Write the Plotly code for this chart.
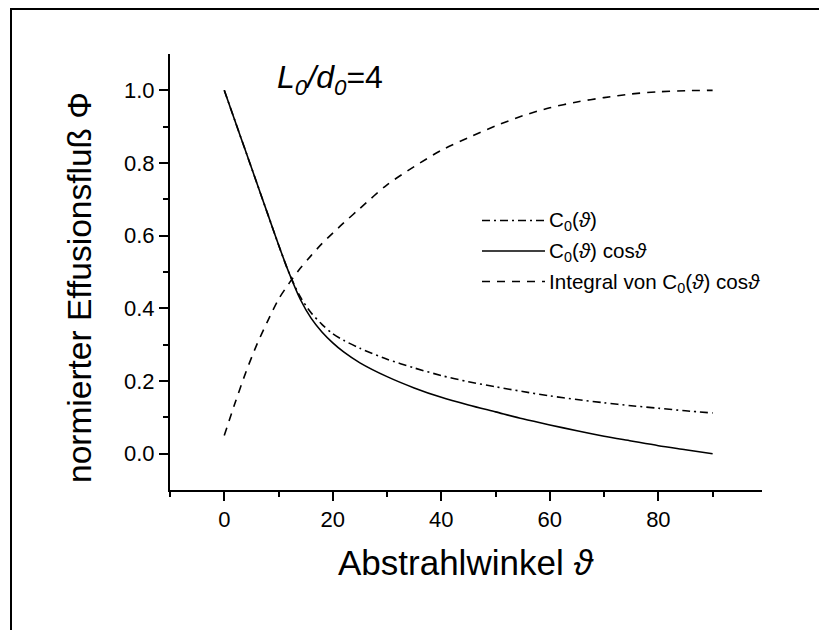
import plotly.graph_objects as go

# ---- data ----
theta = [0, 2, 4, 6, 8, 10, 12, 14, 16, 18, 20, 22, 25, 30, 35, 40, 45, 50, 55, 60, 65, 70, 75, 80, 85, 90]
c0 = [1.0, 0.915, 0.83, 0.745, 0.66, 0.575, 0.495, 0.432, 0.388, 0.356, 0.33, 0.312, 0.29, 0.26, 0.236, 0.215,
      0.198, 0.184, 0.171, 0.159, 0.149, 0.14, 0.132, 0.125, 0.118, 0.112]
c0_cos = [1.0, 0.915, 0.83, 0.745, 0.66, 0.575, 0.495, 0.425, 0.373, 0.335, 0.305, 0.28, 0.25, 0.212, 0.181,
          0.155, 0.134, 0.115, 0.096, 0.079, 0.063, 0.048, 0.035, 0.022, 0.011, 0.0]
integral = [0.05, 0.14, 0.225, 0.30, 0.365, 0.425, 0.47, 0.51, 0.545, 0.578, 0.607, 0.635, 0.675, 0.74, 0.79,
            0.835, 0.87, 0.902, 0.93, 0.952, 0.968, 0.98, 0.99, 0.996, 0.999, 1.0]

legend_labels = ["C<sub>0</sub>(<i>ϑ</i>)",
                 "C<sub>0</sub>(<i>ϑ</i>) cos<i>ϑ</i>",
                 "Integral von C<sub>0</sub>(<i>ϑ</i>) cos<i>ϑ</i>"]
x_title = "Abstrahlwinkel <i>ϑ</i>"
y_title = "normierter Effusionsfluß Φ"
x_ticks = [0, 20, 40, 60, 80]
y_ticks = [0.0, 0.2, 0.4, 0.6, 0.8, 1.0]

FONT = "Liberation Sans, Arial, sans-serif"
DASHDOT = "8px,4px,2px,4px"
DASH = "8px,7px"
styles = [dict(color="black", width=1.6, dash=DASHDOT),
          dict(color="black", width=1.6, dash="solid"),
          dict(color="black", width=1.6, dash=DASH)]

fig = go.Figure()
for ys, st, name in zip([c0, c0_cos, integral], styles, legend_labels):
    fig.add_trace(go.Scatter(x=theta, y=ys, mode="lines", line=dict(**st, shape="spline", smoothing=0.8),
                             name=name, showlegend=False))

# page offset caused by the default body margin of the html page
OFF = 8
FW, FH = 827 - OFF, 630 - OFF
# plot area in page pixels: x 170..762, y 54..490
L, R, T, B = 170, 762, 54, 490
W, H = R - L, B - T
def px(x):
    return (x - L) / W
def py(y):
    return (B - y) / H

fig.update_layout(
    width=FW, height=FH,
    margin=dict(l=L - OFF, r=FW - (R - OFF), t=T - OFF, b=FH - (B - OFF)),
    paper_bgcolor="white", plot_bgcolor="white",
    font=dict(family=FONT, color="black"),
    xaxis=dict(range=[-10, 99.1], showline=True, linecolor="black", linewidth=2,
               tickvals=x_ticks, ticks="outside", ticklen=9, tickwidth=2, tickcolor="black",
               tickfont=dict(size=22, family=FONT), showgrid=False, zeroline=False,
               minor=dict(ticks="outside", ticklen=5, tickwidth=2, tickcolor="black",
                          tickvals=[-10, 10, 30, 50, 70, 90], showgrid=False)),
    yaxis=dict(range=[-0.1, 1.1], showline=True, linecolor="black", linewidth=2,
               tickvals=y_ticks, ticktext=[f"{v:.1f}" for v in y_ticks],
               ticks="outside", ticklen=9, tickwidth=2, tickcolor="black",
               tickfont=dict(size=22, family=FONT), showgrid=False, zeroline=False,
               minor=dict(ticks="outside", ticklen=5, tickwidth=2, tickcolor="black",
                          tickvals=[0.1, 0.3, 0.5, 0.7, 0.9], showgrid=False)),
)

ann = []
# axis titles
ann.append(dict(x=px(466), y=py(562), xref="paper", yref="paper", text=x_title, showarrow=False,
                font=dict(size=35, family=FONT), xanchor="center", yanchor="middle"))
ann.append(dict(x=px(79), y=py(288), xref="paper", yref="paper", text=y_title, showarrow=False,
                font=dict(size=33.5, family=FONT), textangle=-90, xanchor="center", yanchor="middle"))
# parameter label
ann.append(dict(x=px(275), y=py(80), xref="paper", yref="paper",
                text="<i>L</i><sub><i>0</i></sub><i>/d</i><sub><i>0</i></sub>=4", showarrow=False,
                font=dict(size=32, family=FONT), xanchor="left", yanchor="middle"))

# manual legend
rows = [220.5, 251, 281.5]
shapes = []
for r, st, lab in zip(rows, styles, legend_labels):
    shapes.append(dict(type="line", xref="paper", yref="paper", x0=px(482), x1=px(545), y0=py(r), y1=py(r),
                       line=dict(color="black", width=1.6, dash=st["dash"])))
    ann.append(dict(x=px(547), y=py(r + 1), xref="paper", yref="paper", text=lab, showarrow=False,
                    font=dict(size=20.6, family=FONT), xanchor="left", yanchor="middle"))

# outer frame (left and top edges visible)
shapes.append(dict(type="path", xref="paper", yref="paper",
                   path=f"M {px(11)} {py(640)} L {px(11)} {py(9)} L {px(840)} {py(9)}",
                   line=dict(color="black", width=2)))

fig.update_layout(annotations=ann, shapes=shapes)
fig.write_html("out.html")
